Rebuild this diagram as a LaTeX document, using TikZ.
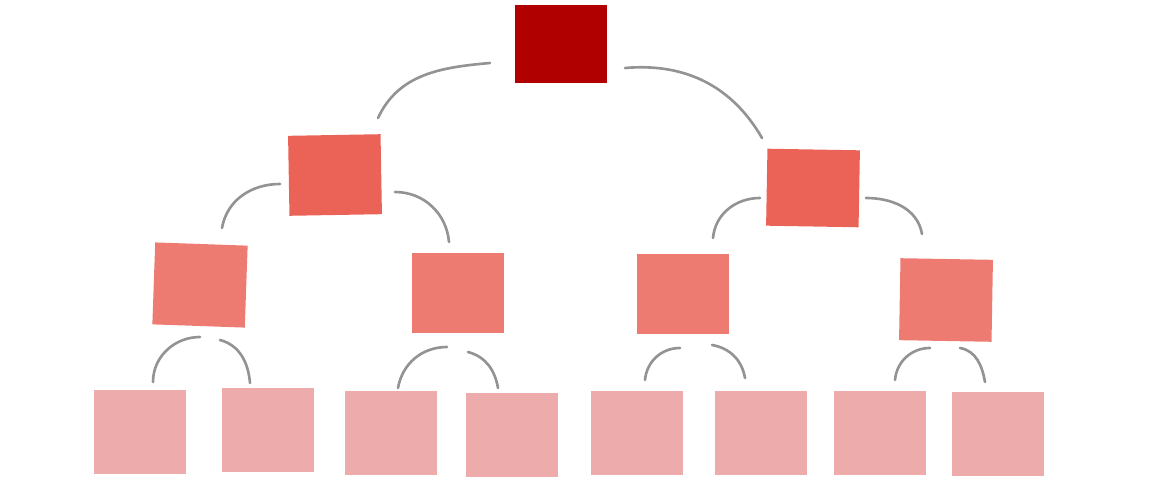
\documentclass[tikz,border=0pt]{standalone}
\usepackage{tikz}
\definecolor{rootred}{HTML}{B10000}
\definecolor{midred}{HTML}{EB6357}
\definecolor{lowred}{HTML}{EE7B72}
\definecolor{leafred}{HTML}{EEABAB}
\begin{document}
\begin{tikzpicture}[x=0.02cm, y=0.02cm, line join=round, line cap=round,
	box/.style={inner sep=0pt, minimum width=1.85cm, minimum height=1.6cm},
	link/.style={draw=gray, draw opacity=0.85, line width=1.5pt}]
	\useasboundingbox (0,0) rectangle (1152,-483);
	% cac o vuong
	\node[box, fill=rootred, minimum height=1.56cm] (root) at (561,-44) {};
	\node[box, fill=midred, rotate=1] (la) at (335,-175) {};
	\node[box, fill=midred, rotate=-1, minimum height=1.54cm] (lb) at (813,-188) {};
	\node[box, fill=lowred, rotate=-2, minimum height=1.64cm] (laa) at (200,-285) {};
	\node[box, fill=lowred] (lab) at (458,-293) {};
	\node[box, fill=lowred] (lba) at (683,-294) {};
	\node[box, fill=lowred, rotate=-1, minimum height=1.64cm] (lbb) at (946,-300) {};
	\foreach \n/\x/\y in {laaa/140/432, laab/268/430, laba/391/433, labb/512/435,
		lbaa/637/433, lbab/761/433, lbba/880/433, lbbb/998/434}
		\node[box, fill=leafred, minimum height=1.68cm] (\n) at (\x,-\y) {};
	% cac cung noi
	\draw[link] ([shift={(-71,-19)}]root.center) to[out=185, in=65] ([shift={(43,57)}]la.center);
	\draw[link] ([shift={(64,-24)}]root.center) to[out=5, in=120] ([shift={(-51,50)}]lb.center);
	\draw[link] ([shift={(-55,-9)}]la.center) to[out=180, in=80] ([shift={(22,57)}]laa.center);
	\draw[link] ([shift={(60,-17)}]la.center) to[out=0, in=95] ([shift={(-9,51)}]lab.center);
	\draw[link] ([shift={(-53,-10)}]lb.center) to[out=180, in=85] ([shift={(30,56)}]lba.center);
	\draw[link] ([shift={(53,-10)}]lb.center) to[out=0, in=100] ([shift={(-24,66)}]lbb.center);
	\draw[link] ([shift={(0,-52)}]laa.center) to[out=180, in=90] ([shift={(13,50)}]laaa.center);
	\draw[link] ([shift={(20,-55)}]laa.center) to[out=-15, in=95] ([shift={(-18,47)}]laab.center);
	\draw[link] ([shift={(-11,-54)}]lab.center) to[out=180, in=80] ([shift={(7,45)}]laba.center);
	\draw[link] ([shift={(10,-59)}]lab.center) to[out=-15, in=100] ([shift={(-14,47)}]labb.center);
	\draw[link] ([shift={(-3,-54)}]lba.center) to[out=180, in=85] ([shift={(8,53)}]lbaa.center);
	\draw[link] ([shift={(29,-51)}]lba.center) to[out=-10, in=100] ([shift={(-16,55)}]lbab.center);
	\draw[link] ([shift={(-16,-48)}]lbb.center) to[out=180, in=85] ([shift={(15,53)}]lbba.center);
	\draw[link] ([shift={(14,-48)}]lbb.center) to[out=-10, in=100] ([shift={(-13,52)}]lbbb.center);
\end{tikzpicture}
\end{document}
